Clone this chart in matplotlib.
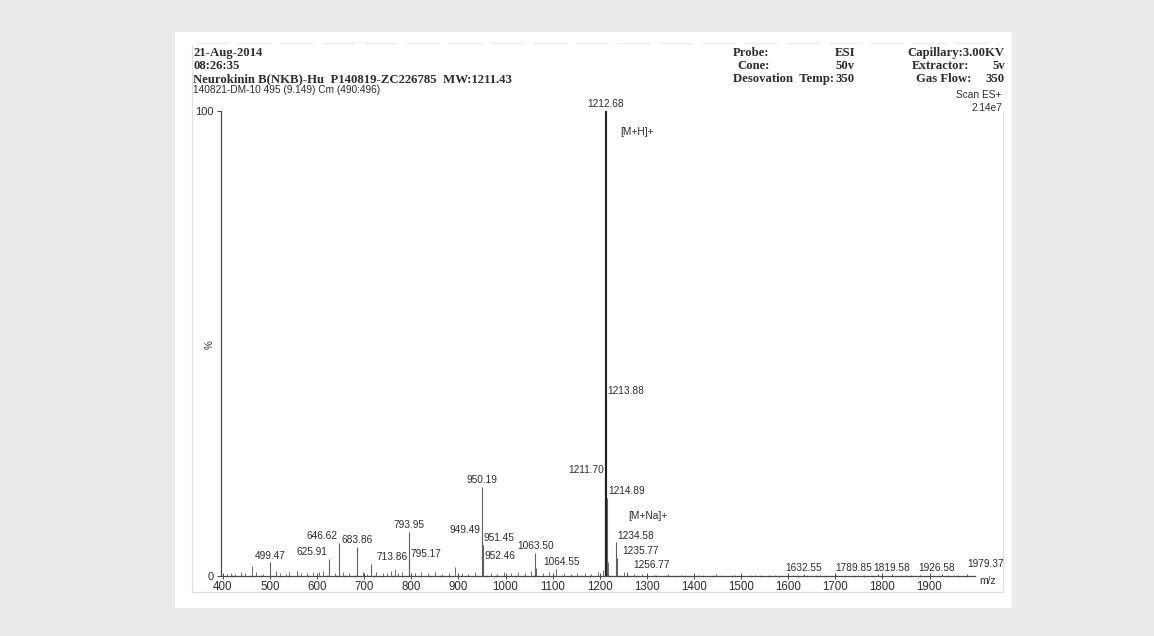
import matplotlib
matplotlib.use("Agg")
import matplotlib.pyplot as plt
from matplotlib.ticker import MultipleLocator
from matplotlib.lines import Line2D
from matplotlib.patches import Rectangle

W, H = 1154, 636

# labelled peaks (m/z, relative intensity %)
peak_mz = [499.47, 625.91, 646.62, 683.86, 713.86, 793.95, 795.17, 949.49, 950.19,
           951.45, 952.46, 1063.50, 1064.55, 1211.70, 1212.68, 1213.88, 1214.89,
           1234.58, 1235.77, 1256.77, 1632.55, 1789.85, 1819.58, 1926.58, 1979.37]
peak_int = [3.0, 3.7, 7.1, 6.3, 2.6, 9.5, 3.4, 8.4, 19.2,
            6.7, 3.0, 5.0, 1.7, 21.3, 100.0, 38.4, 16.8,
            7.3, 3.9, 0.9, 0.4, 0.4, 0.4, 0.4, 0.4]
peak_lbl = ["499.47", "625.91", "646.62", "683.86", "713.86", "793.95", "795.17", "949.49", "950.19",
            "951.45", "952.46", "1063.50", "1064.55", "1211.70", "1212.68", "1213.88", "1214.89",
            "1234.58", "1235.77", "1256.77", "1632.55", "1789.85", "1819.58", "1926.58", "1979.37"]

# unlabelled small peaks / noise
noise_mz = [408, 417, 426, 438, 447, 462.5, 471, 486, 512, 521, 533, 541, 558, 566, 579, 592,
            604, 612, 637, 655, 668, 697, 705, 724, 739, 748, 757, 765, 772, 781, 808, 821,
            836, 850, 866, 879, 893, 907, 921, 934, 968, 981, 996, 1012, 1027, 1041, 1053,
            1079, 1092, 1108, 1123, 1138, 1152, 1168, 1181, 1196, 1207, 1215.9, 1216.9,
            1233.6, 1250.7, 1272, 1290, 1318, 1345, 1372, 1410, 1446, 1488, 1530, 1571,
            1610, 1668, 1702, 1748, 1851, 1880, 1952]
noise_int = [0.5, 0.7, 0.4, 0.9, 0.6, 2.2, 0.8, 0.5, 1.0, 0.6, 0.5, 0.8, 1.1, 0.7, 0.6, 0.9,
             0.8, 1.0, 0.7, 0.9, 0.6, 0.8, 0.5, 0.9, 0.6, 0.7, 1.0, 1.6, 0.6, 0.8, 0.7, 0.9,
             0.6, 0.8, 0.5, 0.7, 2.0, 0.6, 0.5, 0.8, 0.7, 0.5, 0.9, 0.6, 0.8, 0.7, 1.0,
             0.6, 0.8, 1.5, 0.6, 0.5, 0.7, 0.6, 0.5, 0.8, 1.2, 8.0, 3.0,
             2.0, 0.8, 0.4, 0.5, 0.3, 0.4, 0.3, 0.3, 0.4, 0.3, 0.3, 0.3,
             0.3, 0.3, 0.3, 0.3, 0.3, 0.3, 0.3]

xticks = [400, 500, 600, 700, 800, 900, 1000, 1100, 1200, 1300, 1400, 1500, 1600, 1700, 1800, 1900]

# label placement: (ha, dx px, dy px)
lbl_style = {
    "625.91": ("center", -17, 0), "646.62": ("center", -17, 0),
    "713.86": ("left", 6, 0), "795.17": ("left", 1, 0),
    "949.49": ("right", -1, 0), "951.45": ("left", 1, 0), "952.46": ("left", 1, 0),
    "1064.55": ("left", 7, 0), "1211.70": ("right", -1, 0),
    "1213.88": ("left", 1, 0), "1214.89": ("left", 1, 0),
    "1234.58": ("left", 1, 0), "1235.77": ("left", 6, 0), "1256.77": ("left", 7, 0),
    "1789.85": ("right", -6, 0), "1926.58": ("center", -5, 0), "1979.37": ("left", 0, 4),
}

def fx(x, y):
    return x / W, 1 - y / H

ink = "#2e2e2e"
fig = plt.figure(figsize=(W / 100, H / 100), dpi=100, facecolor="#ebebeb")
fig.patches.append(Rectangle(fx(175, 608), 837 / W, 576 / H, transform=fig.transFigure,
                             facecolor="white", edgecolor="none", zorder=-5))
# faint scanned frame
for xs, ys in [([192, 192], [45, 592]), ([192, 1003], [592, 592]), ([1003, 1003], [112, 592])]:
    p0 = fx(xs[0], ys[0]); p1 = fx(xs[1], ys[1])
    fig.add_artist(Line2D([p0[0], p1[0]], [p0[1], p1[1]], transform=fig.transFigure,
                          color="#e0e0e0", lw=0.9, zorder=-4))
p0 = fx(195, 43); p1 = fx(1000, 43)
fig.add_artist(Line2D([p0[0], p1[0]], [p0[1], p1[1]], transform=fig.transFigure,
                      color="#ececec", lw=0.8, ls=(0, (30, 8)), zorder=-4))

ax = fig.add_axes([221 / W, (H - 576) / H, 754 / W, 465 / H])
ax.set_facecolor("none")
ax.set_xlim(395.8, 1996.6)
ax.set_ylim(0, 100)

ax.vlines(noise_mz, 0, noise_int, color="#707070", lw=0.7)
for mz, it in zip(peak_mz, peak_int):
    ax.vlines(mz, 0, it, color="#222222" if it > 30 else "#606060", lw=1.5 if it > 30 else 0.8)

for mz, it, lb in zip(peak_mz, peak_int, peak_lbl):
    ha, dx, dy = lbl_style.get(lb, ("center", 0, 0))
    ax.annotate(lb, (mz, it), xytext=(dx * 0.72, (dy + 1.5) * 0.72), textcoords="offset points",
                ha=ha, va="bottom", fontsize=7.3, family="Liberation Sans", color=ink,
                annotation_clip=False)

ax.text(1243, 95.5, "[M+H]+", fontsize=7.3, family="Liberation Sans", color=ink, va="center")
ax.text(1260, 12.9, "[M+Na]+", fontsize=7.3, family="Liberation Sans", color=ink, va="center")

for s in ["top", "right"]:
    ax.spines[s].set_visible(False)
for s in ["left", "bottom"]:
    ax.spines[s].set_color("#4a4a4a")
    ax.spines[s].set_linewidth(0.9)

ax.set_xticks(xticks)
ax.xaxis.set_minor_locator(MultipleLocator(20))
ax.tick_params(axis="x", which="major", direction="inout", length=4, width=0.7,
               pad=1.5, labelsize=8.3, colors="#4a4a4a", labelcolor=ink)
ax.tick_params(axis="x", which="minor", direction="inout", length=2, width=0.5, colors="#808080")
ax.set_yticks([0, 100])
ax.tick_params(axis="y", direction="out", length=3, width=0.7, pad=2, labelsize=8,
               colors="#4a4a4a", labelcolor=ink)
for t in ax.get_xticklabels() + ax.get_yticklabels():
    t.set_family("Liberation Sans")

fig.text(*fx(996, 581), "m/z", ha="right", va="center", fontsize=7.5, family="Liberation Sans", color=ink)
fig.text(*fx(210, 345), "%", ha="center", va="center", fontsize=7, rotation=90,
         family="Liberation Sans", color=ink)

# header
serif = dict(family="Liberation Serif", weight="bold", fontsize=9.2, color=ink, va="center")
sans = dict(family="Liberation Sans", fontsize=7.3, color=ink, va="center")
fig.text(*fx(193, 53), "21-Aug-2014", ha="left", **serif)
fig.text(*fx(193, 66), "08:26:35", ha="left", **serif)
fig.text(*fx(193, 79), "Neurokinin B(NKB)-Hu  P140819-ZC226785  MW:1211.43", ha="left", **serif)
fig.text(*fx(193, 90), "140821-DM-10 495 (9.149) Cm (490:496)", ha="left", **sans)

fig.text(*fx(733, 53), "Probe:", ha="left", **serif)
fig.text(*fx(855, 53), "ESI", ha="right", **serif)
fig.text(*fx(737, 66), "Cone:", ha="left", **serif)
fig.text(*fx(855, 66), "50v", ha="right", **serif)
fig.text(*fx(733, 79), "Desovation  Temp:", ha="left", **serif)
fig.text(*fx(855, 79), "350", ha="right", **serif)
fig.text(*fx(1005, 53), "Capillary:3.00KV", ha="right", **serif)
fig.text(*fx(912, 66), "Extractor:", ha="left", **serif)
fig.text(*fx(1005, 66), "5v", ha="right", **serif)
fig.text(*fx(916, 79), "Gas Flow:", ha="left", **serif)
fig.text(*fx(1005, 79), "350", ha="right", **serif)
fig.text(*fx(1002, 95), "Scan ES+", ha="right", **sans)
fig.text(*fx(1002, 108), "2.14e7", ha="right", **sans)

fig.savefig("out.png", dpi=100, facecolor=fig.get_facecolor())
